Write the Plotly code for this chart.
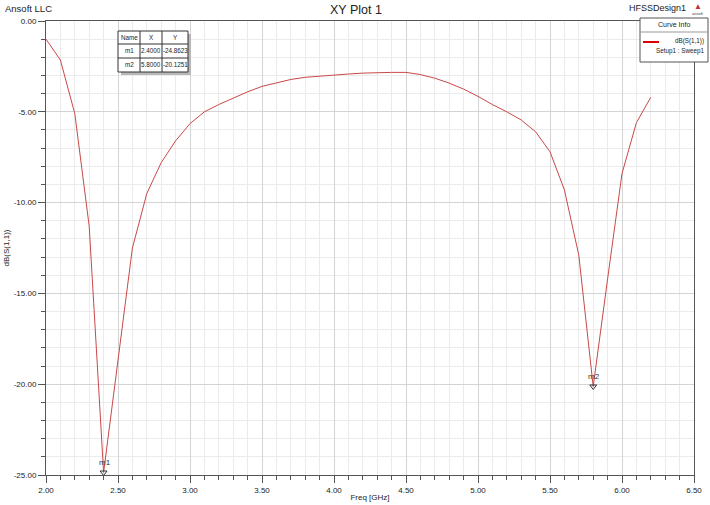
import plotly.graph_objects as go

# ---------------- data ----------------
freq_ghz = [2.0, 2.1, 2.2, 2.3, 2.4, 2.5, 2.6, 2.7, 2.8, 2.9,
            3.0, 3.1, 3.2, 3.3, 3.4, 3.5, 3.6, 3.7, 3.8, 3.9,
            4.0, 4.1, 4.2, 4.3, 4.4, 4.5, 4.6, 4.7, 4.8, 4.9,
            5.0, 5.1, 5.2, 5.3, 5.4, 5.5, 5.6, 5.7, 5.8, 5.9,
            6.0, 6.1, 6.2]
s11_db = [-1.0, -2.15, -5.1, -11.3, -24.86, -18.6, -12.5, -9.5, -7.8, -6.6,
          -5.65, -5.0, -4.6, -4.25, -3.9, -3.6, -3.4, -3.22, -3.1, -3.03,
          -2.96, -2.92, -2.87, -2.84, -2.83, -2.83, -2.95, -3.15, -3.42, -3.75,
          -4.15, -4.6, -5.0, -5.45, -6.1, -7.2, -9.3, -12.9, -20.13, -14.2,
          -8.4, -5.6, -4.2]

marker_names = ["m1", "m2"]
marker_x = [2.4000, 5.8000]
marker_y = [-24.8623, -20.1251]

x_tick_vals = [2.0, 2.5, 3.0, 3.5, 4.0, 4.5, 5.0, 5.5, 6.0, 6.5]
x_tick_text = ["2.00", "2.50", "3.00", "3.50", "4.00", "4.50", "5.00", "5.50", "6.00", "6.50"]
y_tick_vals = [-25, -20, -15, -10, -5, 0]
y_tick_text = ["-25.00", "-20.00", "-15.00", "-10.00", "-5.00", "0.00"]

# ---------------- layout geometry ----------------
W, H = 710, 505
L, R, T, B = 46, 694, 21, 475
FONT = "Liberation Sans Narrow, Liberation Sans, Arial, sans-serif"
TXT = "#222222"


def px(x):
    return (x - L) / (R - L)


def py(y):
    return (B - y) / (B - T)


fig = go.Figure()

fig.add_trace(go.Scatter(
    x=freq_ghz, y=s11_db, mode="lines",
    line=dict(color="#c94848", width=1),
    showlegend=False, hoverinfo="x+y",
))

fig.add_trace(go.Scatter(
    x=marker_x, y=marker_y, mode="markers",
    marker=dict(symbol="triangle-down-open", size=6,
                color="#333333", line=dict(width=1, color="#333333")),
    showlegend=False,
))

annotations = []
shapes = []

# marker labels
for n, mx, my in zip(marker_names, marker_x, marker_y):
    annotations.append(dict(x=mx, y=my, xref="x", yref="y", text=n,
                            showarrow=False, yshift=10, xshift=1,
                            font=dict(family=FONT, size=8, color="#333333")))

# header texts
annotations += [
    dict(x=px(3), y=py(8), xref="paper", yref="paper", text="Ansoft LLC",
         showarrow=False, xanchor="left", yanchor="middle",
         font=dict(family=FONT, size=9.5, color=TXT)),
    dict(x=px(356), y=py(10), xref="paper", yref="paper", text="XY Plot 1",
         showarrow=False, xanchor="center", yanchor="middle",
         font=dict(family=FONT, size=12.5, color=TXT)),
    dict(x=px(688), y=py(8), xref="paper", yref="paper", text="HFSSDesign1",
         showarrow=False, xanchor="right", yanchor="middle",
         font=dict(family=FONT, size=9, color=TXT)),
    dict(x=px(698), y=py(6), xref="paper", yref="paper", text="▲",
         showarrow=False, xanchor="center", yanchor="middle",
         font=dict(family=FONT, size=8, color="#c03030")),
    dict(x=px(698), y=py(14), xref="paper", yref="paper", text="ansoft",
         showarrow=False, xanchor="center", yanchor="middle",
         font=dict(family=FONT, size=4, color="#444444")),
]

# marker table
tx0, tx1, tx2, tx3 = 118, 140, 162, 188
ty0, ty1, ty2, ty3 = 31, 44, 58, 72
shapes.append(dict(type="rect", xref="paper", yref="paper",
                   x0=px(tx0 + 3), x1=px(tx3 + 3), y0=py(ty3 + 3), y1=py(ty0 + 3),
                   fillcolor="#b8b8b8", line=dict(width=0), layer="above"))
shapes.append(dict(type="rect", xref="paper", yref="paper",
                   x0=px(tx0), x1=px(tx3), y0=py(ty3), y1=py(ty0),
                   fillcolor="white", line=dict(width=1, color="#333333"), layer="above"))
for yy in (ty1, ty2):
    shapes.append(dict(type="line", xref="paper", yref="paper",
                       x0=px(tx0), x1=px(tx3), y0=py(yy), y1=py(yy),
                       line=dict(width=1, color="#333333"), layer="above"))
for xx in (tx1, tx2):
    shapes.append(dict(type="line", xref="paper", yref="paper",
                       x0=px(xx), x1=px(xx), y0=py(ty0), y1=py(ty3),
                       line=dict(width=1, color="#333333"), layer="above"))
rows = [["Name", "X", "Y"]] + [
    [n, f"{mx:.4f}", f"{my:.4f}"] for n, mx, my in zip(marker_names, marker_x, marker_y)
]
cols_c = [(tx0 + tx1) / 2, (tx1 + tx2) / 2, (tx2 + tx3) / 2]
rows_c = [(ty0 + ty1) / 2, (ty1 + ty2) / 2, (ty2 + ty3) / 2]
for r, row in enumerate(rows):
    for c, txt in enumerate(row):
        annotations.append(dict(x=px(cols_c[c]), y=py(rows_c[r]), xref="paper", yref="paper",
                                text=txt, showarrow=False, xanchor="center", yanchor="middle",
                                font=dict(family=FONT, size=6.3, color=TXT)))

# curve info legend box
lx0, lx1, ly0, ly1 = 640, 708, 18, 62
shapes.append(dict(type="rect", xref="paper", yref="paper",
                   x0=px(lx0), x1=px(lx1), y0=py(ly1), y1=py(ly0),
                   fillcolor="white", line=dict(width=1, color="#555555"), layer="above"))
shapes.append(dict(type="line", xref="paper", yref="paper",
                   x0=px(lx0), x1=px(lx1), y0=py(32), y1=py(32),
                   line=dict(width=1, color="#999999"), layer="above"))
shapes.append(dict(type="line", xref="paper", yref="paper",
                   x0=px(643), x1=px(659), y0=py(42), y1=py(42),
                   line=dict(width=2, color="#dd0000"), layer="above"))
annotations += [
    dict(x=px(674), y=py(25), xref="paper", yref="paper", text="Curve Info",
         showarrow=False, xanchor="center", yanchor="middle",
         font=dict(family=FONT, size=7, color=TXT)),
    dict(x=px(706), y=py(41), xref="paper", yref="paper", text="dB(S(1,1))",
         showarrow=False, xanchor="right", yanchor="middle",
         font=dict(family=FONT, size=6.3, color=TXT)),
    dict(x=px(706), y=py(51), xref="paper", yref="paper", text="Setup1 : Sweep1",
         showarrow=False, xanchor="right", yanchor="middle",
         font=dict(family=FONT, size=6.3, color=TXT)),
]

axis_common = dict(
    showline=True, linecolor="#555555", linewidth=1, mirror=True,
    ticks="outside", ticklen=7, tickcolor="#555555", tickwidth=1,
    showgrid=True, gridcolor="#d4d4d4", gridwidth=1,
    zeroline=False, automargin=False,
    tickfont=dict(family=FONT, size=8, color=TXT),
)

fig.update_layout(
    width=W, height=H,
    margin=dict(l=L, r=W - R, t=T, b=H - B, pad=0),
    paper_bgcolor="white", plot_bgcolor="white",
    xaxis=dict(range=[2.0, 6.5], tickvals=x_tick_vals, ticktext=x_tick_text,
               minor=dict(dtick=0.1, tick0=2.0, showgrid=True, gridcolor="#ebebeb",
                          ticks="outside", ticklen=4, tickcolor="#555555"),
               title=dict(text="Freq [GHz]", standoff=0,
                          font=dict(family=FONT, size=8, color=TXT)),
               **axis_common),
    yaxis=dict(range=[-25, 0], tickvals=y_tick_vals, ticktext=y_tick_text,
               minor=dict(dtick=1, tick0=0, showgrid=True, gridcolor="#ebebeb",
                          ticks="outside", ticklen=4, tickcolor="#555555"),
               title=dict(text="dB(S(1,1))", standoff=2,
                          font=dict(family=FONT, size=8, color=TXT)),
               **axis_common),
    annotations=annotations,
    shapes=shapes,
    showlegend=False,
)

fig.write_html("out.html", config={"displayModeBar": False},
               post_script="document.body.style.margin='0';document.body.style.overflow='hidden';")
